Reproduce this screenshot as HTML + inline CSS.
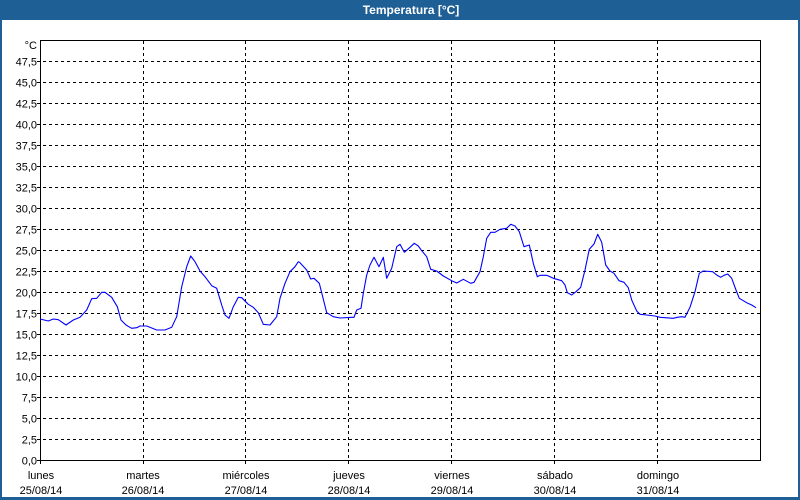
<!DOCTYPE html>
<html><head><meta charset="utf-8"><style>
html,body{margin:0;padding:0;background:#fff;}
svg{display:block;}
text{font-family:"Liberation Sans",Arial,sans-serif;font-size:11px;fill:#000;}
</style></head><body>
<svg width="800" height="500" viewBox="0 0 800 500" xmlns="http://www.w3.org/2000/svg">
<rect x="0" y="0" width="800" height="500" fill="#fff"/>
<rect x="0" y="0" width="800" height="20" fill="#1e5f96"/>
<rect x="0" y="0" width="2" height="500" fill="#1e5f96"/>
<rect x="798" y="0" width="2" height="500" fill="#1e5f96"/>
<rect x="0" y="497" width="800" height="3" fill="#1e5f96"/>
<text x="411" y="14" text-anchor="middle" style="font-weight:bold;font-size:12px;fill:#fff">Temperatura [°C]</text>

<g stroke="#000" stroke-width="1" stroke-dasharray="3,3" fill="none">
<path d="M37 439.5H760 M37 418.5H760 M37 397.5H760 M37 376.5H760 M37 355.5H760 M37 334.5H760 M37 313.5H760 M37 292.5H760 M37 271.5H760 M37 250.5H760 M37 229.5H760 M37 208.5H760 M37 187.5H760 M37 166.5H760 M37 145.5H760 M37 124.5H760 M37 103.5H760 M37 82.5H760 M37 61.5H760"/>
<path d="M143.5 41V464 M245.5 41V464 M348.5 41V464 M451.5 41V464 M554.5 41V464 M657.5 41V464"/>
</g>
<rect x="40.5" y="40.5" width="720" height="420" fill="none" stroke="#000" stroke-width="1"/>
<path d="M37 460.5H40.5 M40.5 460.5V464" stroke="#000" stroke-width="1"/>

<g text-anchor="end">
<text x="37" y="49">°C</text>
<text x="37" y="65.5">47,5</text>
<text x="37" y="86.5">45,0</text>
<text x="37" y="107.5">42,5</text>
<text x="37" y="128.5">40,0</text>
<text x="37" y="149.5">37,5</text>
<text x="37" y="170.5">35,0</text>
<text x="37" y="191.5">32,5</text>
<text x="37" y="212.5">30,0</text>
<text x="37" y="233.5">27,5</text>
<text x="37" y="254.5">25,0</text>
<text x="37" y="275.5">22,5</text>
<text x="37" y="296.5">20,0</text>
<text x="37" y="317.5">17,5</text>
<text x="37" y="338.5">15,0</text>
<text x="37" y="359.5">12,5</text>
<text x="37" y="380.5">10,0</text>
<text x="37" y="401.5">7,5</text>
<text x="37" y="422.5">5,0</text>
<text x="37" y="443.5">2,5</text>
<text x="37" y="464.5">0,0</text>
</g>

<g text-anchor="middle">
<text x="41" y="479">lunes</text><text x="41" y="494">25/08/14</text>
<text x="143" y="479">martes</text><text x="143" y="494">26/08/14</text>
<text x="246" y="479">miércoles</text><text x="246" y="494">27/08/14</text>
<text x="349" y="479">jueves</text><text x="349" y="494">28/08/14</text>
<text x="452" y="479">viernes</text><text x="452" y="494">29/08/14</text>
<text x="555" y="479">sábado</text><text x="555" y="494">30/08/14</text>
<text x="658" y="479">domingo</text><text x="658" y="494">31/08/14</text>
</g>

<polyline fill="none" stroke="#0000ff" stroke-width="1.1" stroke-linejoin="round" points="40,319 48.3,321 53.3,319 58.3,319.7 66,325 73.3,320 80,317.3 86.7,310 91.7,298.7 96.7,298.3 101.7,292.3 105,292.3 111.7,297.3 117.3,306.7 121,320 126,325 131.7,328.3 136.7,327.7 140,326 146.7,326 156.7,330 165,330 171.7,327.3 176.7,316.7 181.7,286.7 186.7,266.7 190.7,256 195,261.7 200,271 205,276.7 211.7,285.7 216.7,288.3 221.7,305 225,315 229,318.3 233.3,306.7 238.3,297.3 241.7,297.7 248.3,304.3 253.3,307.3 258.3,312.7 263.3,324.3 270,325 276.7,316.7 280,298.3 285,283.3 290,271.7 295,266.7 298.3,261.7 300,262.7 306.7,270 310.7,279 314,278.3 319.3,283.3 322.7,296.7 326.7,312.7 333.3,316.7 340,318 351.7,317.3 354,317.3 356.7,310 361,308.3 363.3,293.3 366.7,275 370,265 374,257.3 379,266.7 383.3,257.3 386.7,278.3 391.7,268.3 396.7,246.7 400,244.3 404.3,252.3 410,247.3 414.3,243.3 418.3,246 421.7,250.7 426.7,256.7 430.7,269.3 436.7,271 443.3,276 451.7,280.7 456.7,283 463.3,279.3 470.7,283.3 474,282.3 480,271.7 483.3,256.7 486.7,238.3 490.7,232.3 495,232.3 500,229.3 506.7,228.3 510.7,224.3 515,226 519.3,231.7 524,246.7 529.3,245 533.3,263.3 537.3,276.7 540,275.3 546.7,275.3 553.3,278.3 561.7,280.7 565,285 567.3,292.7 571.7,295 576,291.7 580.7,287.3 585,270 589.3,249.3 594,244 597.7,234.3 601.7,242.3 605.7,265 610,271 614,273.3 619,280.7 624,282.3 628.3,287.7 631.7,300 636.7,311 640,314.3 646.7,315 655,316 660,317.3 673.3,318.3 677.3,317.3 681.7,316.7 685,317.3 690,307.3 695,291.7 699.3,273.3 703.3,271 712.7,271.7 716.7,275 720.7,277.3 724,275.3 727.7,274 731.7,278.3 736,290 739.3,298.3 746.7,302.7 751.7,305 756,307.7"/>
</svg>
</body></html>
